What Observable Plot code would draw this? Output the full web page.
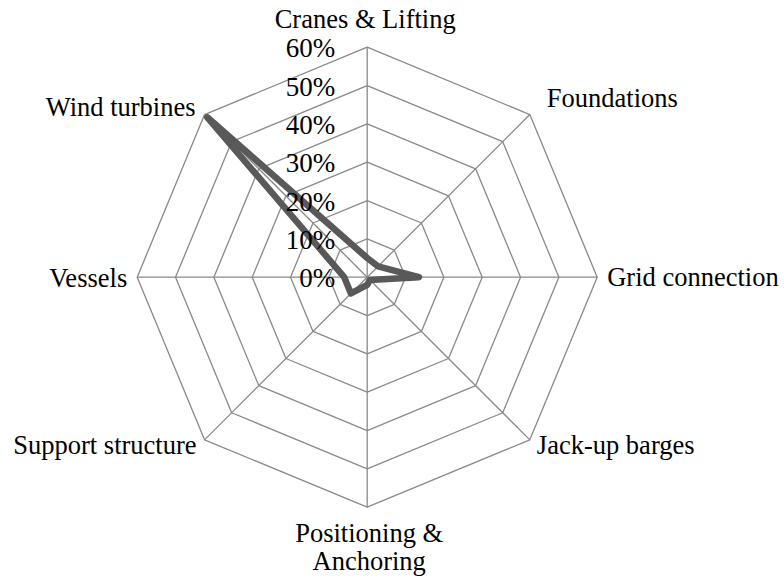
<!DOCTYPE html>
<html>
<head>
<meta charset="utf-8">
<script src="https://cdn.jsdelivr.net/npm/d3@7"></script>
<script src="https://cdn.jsdelivr.net/npm/@observablehq/plot@0.6"></script>
<style>
  html, body { margin: 0; padding: 0; background: #fff; }
  #chart { width: 784px; height: 582px; }
</style>
</head>
<body>
<div id="chart"></div>
<script>
// ---- Data ----
const categories = [
  "Cranes & Lifting",
  "Foundations",
  "Grid connection",
  "Jack-up barges",
  "Positioning &\nAnchoring",
  "Support structure",
  "Vessels",
  "Wind turbines"
];
const values = [5, 4, 13.5, 1, 2, 6, 6, 59];
const tickValues = [0, 10, 20, 30, 40, 50, 60];
const tickLabels = ["0%", "10%", "20%", "30%", "40%", "50%", "60%"];

// ---- Layout ----
const W = 784, H = 582;
const CX = 366.7, CY = 276.7, R = 230;
const maxV = tickValues[tickValues.length - 1];
const k = R / maxV;
const n = categories.length;
const ang = i => (i * 2 * Math.PI) / n;
const px = (v, i) => v * Math.sin(ang(i));
const py = (v, i) => v * Math.cos(ang(i));

// label placement per category (anchor, dx, dy)
const labelLayout = [
  {anchor: "middle", dx: -2, dy: -28.5, lineAnchor: "middle"},
  {anchor: "start", dx: 17, dy: -16.5, lineAnchor: "middle"},
  {anchor: "start", dx: 10, dy: -0.5, lineAnchor: "middle"},
  {anchor: "start", dx: 7, dy: 5.5, lineAnchor: "middle"},
  {anchor: "middle", dx: 2, dy: 14.5, lineAnchor: "top"},
  {anchor: "end", dx: -8, dy: 5.5, lineAnchor: "middle"},
  {anchor: "end", dx: -10, dy: 0.5, lineAnchor: "middle"},
  {anchor: "end", dx: -9, dy: -7.5, lineAnchor: "middle"}
];

const rings = tickValues.filter(v => v > 0).flatMap(v =>
  d3.range(n + 1).map(i => ({ring: v, x: px(v, i % n), y: py(v, i % n)}))
);
const spokes = categories.map((c, i) => ({x1: 0, y1: 0, x2: px(maxV, i), y2: py(maxV, i)}));
const series = d3.range(n + 1).map(i => ({x: px(values[i % n], i % n), y: py(values[i % n], i % n)}));
const ticks = tickValues.map((v, i) => ({v, label: tickLabels[i]}));
const labels = categories.map((c, i) => ({text: c, x: px(maxV, i), y: py(maxV, i), ...labelLayout[i]}));

const serif = "Liberation Serif";

const marks = [
  Plot.line(rings, {x: "x", y: "y", z: "ring", stroke: "#898989", strokeWidth: 1.3}),
  Plot.link(spokes, {x1: "x1", y1: "y1", x2: "x2", y2: "y2", stroke: "#898989", strokeWidth: 1.3}),
  Plot.line(series, {x: "x", y: "y", stroke: "#595959", strokeWidth: 6.5, strokeLinejoin: "round", strokeLinecap: "round"}),
  Plot.text(ticks, {x: () => 0, y: "v", text: "label", textAnchor: "end", dx: -32, dy: 1.5, fontSize: 27, fontFamily: serif, fill: "#000"})
];
for (const l of labels) {
  marks.push(Plot.text([l], {
    x: "x", y: "y", text: "text", textAnchor: l.anchor, lineAnchor: l.lineAnchor,
    dx: l.dx, dy: l.dy, fontSize: 26.5, fontFamily: serif, fill: "#000", lineHeight: 1.06
  }));
}

const chart = Plot.plot({
  width: W, height: H,
  margin: 0,
  x: {domain: [-CX / k, (W - CX) / k], range: [0, W], axis: null},
  y: {domain: [-(H - CY) / k, CY / k], range: [H, 0], axis: null},
  style: {background: "#fff", overflow: "visible", fontFamily: serif},
  marks
});
document.getElementById("chart").appendChild(chart);
</script>
</body>
</html>
